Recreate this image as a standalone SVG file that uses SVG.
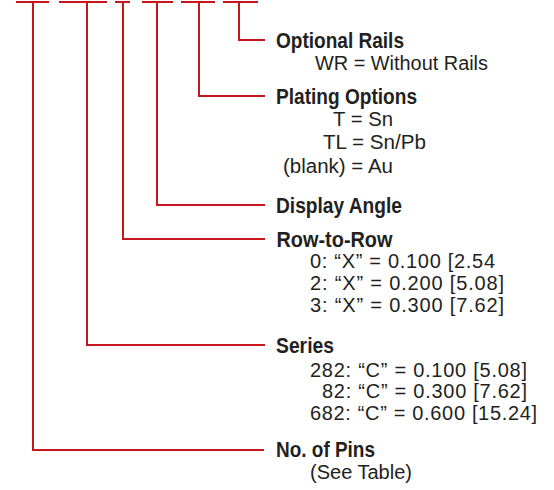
<svg xmlns="http://www.w3.org/2000/svg" width="554" height="490" viewBox="0 0 554 490">
<style>
.ln{fill:none;stroke:#c4161c;stroke-width:2}
.t{font-family:"Liberation Sans",Arial,sans-serif;font-size:20px;fill:#231f20}
.b{font-weight:bold;font-size:21.5px}
</style>
<rect width="554" height="490" fill="#fff"/>
<g id="connectors">
<path class="ln" d="M16 2H49M33 2V450H264"/>
<path class="ln" d="M59 2H107M87 2V345H265"/>
<path class="ln" d="M115 2H130M123 2V239H265"/>
<path class="ln" d="M142 2H173M157 2V205H265"/>
<path class="ln" d="M181 2H215M199 2V96H265"/>
<path class="ln" d="M223 2H258M239 2V40H265"/>
</g>
<g id="optional-rails">
<text class="t b" x="276" y="47.5" textLength="128" lengthAdjust="spacingAndGlyphs">Optional Rails</text>
<text class="t" x="315" y="70" textLength="173" lengthAdjust="spacingAndGlyphs">WR = Without Rails</text>
</g>
<g id="plating-options">
<text class="t b" x="276" y="103.5" textLength="141" lengthAdjust="spacingAndGlyphs">Plating Options</text>
<text class="t" x="333" y="125.5" textLength="60" lengthAdjust="spacingAndGlyphs">T = Sn</text>
<text class="t" x="323" y="149" textLength="103" lengthAdjust="spacingAndGlyphs">TL = Sn/Pb</text>
<text class="t" x="283" y="172.5" textLength="110" lengthAdjust="spacingAndGlyphs">(blank) = Au</text>
</g>
<g id="display-angle">
<text class="t b" x="276" y="212.5" textLength="126" lengthAdjust="spacingAndGlyphs">Display Angle</text>
</g>
<g id="row-to-row">
<text class="t b" x="276.5" y="246.5" textLength="116" lengthAdjust="spacingAndGlyphs">Row-to-Row</text>
<text class="t" x="310" y="268" textLength="185">0: “X” = 0.100 [2.54</text>
<text class="t" x="310" y="290" textLength="194">2: “X” = 0.200 [5.08]</text>
<text class="t" x="310" y="312" textLength="194">3: “X” = 0.300 [7.62]</text>
</g>
<g id="series">
<text class="t b" x="276" y="352.5" textLength="58" lengthAdjust="spacingAndGlyphs">Series</text>
<text class="t" x="310" y="376.5" textLength="217">282: “C” = 0.100 [5.08]</text>
<text class="t" x="322" y="398" textLength="205">82: “C” = 0.300 [7.62]</text>
<text class="t" x="310" y="420" textLength="227">682: “C” = 0.600 [15.24]</text>
</g>
<g id="no-of-pins">
<text class="t b" x="276" y="457" textLength="99" lengthAdjust="spacingAndGlyphs">No. of Pins</text>
<text class="t" x="310" y="479" textLength="102" lengthAdjust="spacingAndGlyphs">(See Table)</text>
</g>
</svg>
